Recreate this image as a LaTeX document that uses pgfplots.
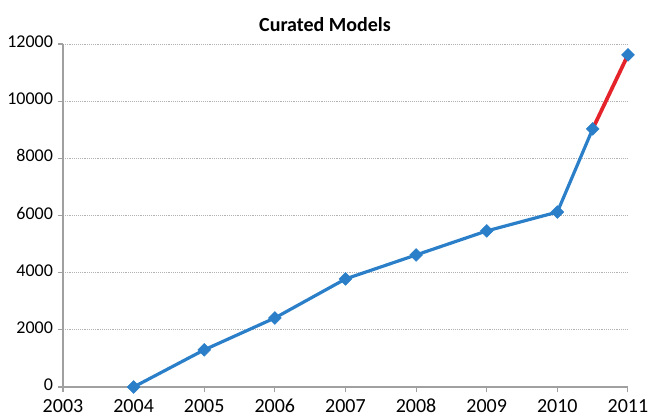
\documentclass[border=0pt]{standalone}
\usepackage{fontspec}
\setmainfont{Carlito}
\usepackage{pgfplots}
\pgfplotsset{compat=1.18}
\definecolor{lblue}{HTML}{2A7FC8}
\definecolor{lred}{HTML}{E5232A}
\definecolor{axgray}{HTML}{A0A0A0}
\begin{document}
\begin{tikzpicture}
\path[use as bounding box] (-47.25pt,-24.75pt) rectangle (440.25pt,290.25pt);
\begin{axis}[
  at={(0pt,0pt)}, anchor=origin,
  scale only axis, width=423.75pt, height=257.25pt,
  xmin=2003, xmax=2011, ymin=0, ymax=12000,
  xtick={2003,2004,...,2011}, ytick={0,2000,...,12000},
  scaled ticks=false,
  axis x line=bottom, axis y line=left,
  axis line style={-, axgray, line width=0.8pt},
  tick align=outside, major tick length=4pt,
  tick style={axgray, line width=0.8pt},
  ymajorgrids, grid style={densely dotted, gray!60, line width=0.5pt},
  /pgf/number format/assume math mode=true,
  /pgf/number format/1000 sep={},
  typeset ticklabels with strut,
  x tick label style={font=\fontsize{15}{15}\selectfont, yshift=-1pt},
  y tick label style={font=\fontsize{13.5}{13.5}\selectfont},
  clip=false,
]
\addplot[lblue, line width=2.4pt, line join=round] coordinates {
 (2004,0) (2005,1300) (2006,2415) (2007,3780) (2008,4620) (2009,5460) (2010,6120) (2010.5,9030)
};
\addplot[lred, line width=2.8pt] coordinates {(2010.5,9030) (2011,11620)};
\addplot[only marks, mark=square*, mark size=3.4pt, lblue, mark options={fill=lblue, draw=lblue, rotate=45}] coordinates {
 (2004,0) (2005,1300) (2006,2415) (2007,3780) (2008,4620) (2009,5460) (2010,6120) (2010.5,9030) (2011,11620)
};
\end{axis}
\node[font=\fontsize{15}{15}\selectfont\bfseries] at (196.5pt,272pt) {Curated Models};
\end{tikzpicture}
\end{document}
